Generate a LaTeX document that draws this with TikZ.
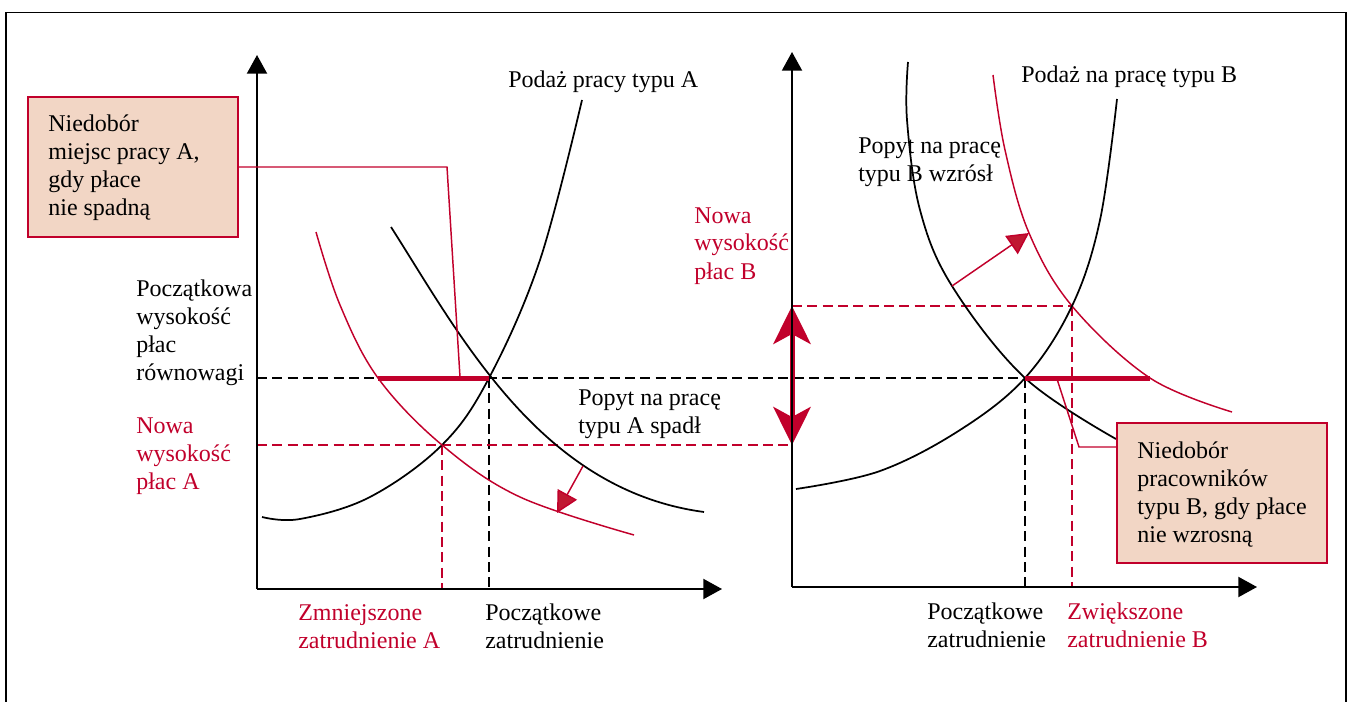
\documentclass[tikz,border=0pt]{standalone}
\usepackage{fontspec}
\setmainfont{Liberation Serif}
\usetikzlibrary{arrows.meta,calc}
\definecolor{crim}{RGB}{193,0,43}
\definecolor{peach}{RGB}{242,214,197}
\definecolor{headred}{RGB}{192,24,50}
\begin{document}
\begin{tikzpicture}[x=0.75pt, y=-0.75pt,
  lbl/.style={inner sep=0pt, anchor=base west, align=left, font=\fontsize{18}{21}\selectfont},
  redlbl/.style={lbl, text=crim},
  axis/.style={line width=1.5pt, -{Triangle[length=14pt,width=15pt]}},
  curveblk/.style={line width=1.3pt, black},
  curvered/.style={line width=1.1pt, crim},
  dashblk/.style={line width=1.8pt, dash pattern=on 7.5pt off 4pt},
  dashred/.style={dashblk, draw=crim},
  bar/.style={line width=3.75pt, crim},
  lead/.style={line width=1.1pt, crim},
  shiftarrow/.style={line width=1.1pt, crim, -{Triangle[length=16pt,width=16.5pt,fill=headred]}},
  bigtip/.tip={Stealth[length=28.5pt,width=28pt,inset=7.5pt]},
  note/.style={draw=crim, line width=1.4pt, fill=peach, minimum width=157.5pt,
    minimum height=105pt, inner sep=0pt},
]
\useasboundingbox (0,0) rectangle (1352,702);

% outer frame
\draw[line width=1.2pt] (6,702) -- (6,12.5) -- (1346,12.5) -- (1346,702);

% key points
\coordinate (oA) at (257,589);
\coordinate (yA) at (257,55);
\coordinate (xA) at (722,589);
\coordinate (oB) at (792,587);
\coordinate (yB) at (792,52);
\coordinate (xB) at (1257,587);
\coordinate (eA) at (489,378);
\coordinate (nA) at (442,445);
\coordinate (eB) at (1025,378);
\coordinate (nB) at (1072,306);
\coordinate (barA) at (378,378);
\coordinate (barB) at (1150,378);

% guide lines
\draw[dashblk] (oA |- eA) -- (eB);
\draw[dashblk] (eA) -- (eA |- oA);
\draw[dashblk] (eB) -- (eB |- oB);
\draw[dashred] (oA |- nA) -- (oB |- nA);
\draw[dashred] (nA) -- (nA |- oA);
\draw[dashred] (oB |- nB) -- (nB);
\draw[dashred] (nB) -- (nB |- oB);

% market A: supply, initial demand, lowered demand
\draw[curveblk] plot[smooth, tension=0.6] coordinates {(262,517) (300,519) (370,497) (442,445) (489,378) (540,260) (582,100)};
\draw[curveblk] (391,227) .. controls (460,335) and (540,490) .. (704,512);
\draw[curvered] plot[smooth, tension=0.6] coordinates {(316,232) (340,305) (378,378) (442,445) (520,497) (634,535)};

% market B: initial demand, raised demand, supply
\draw[curveblk] plot[smooth, tension=0.6] coordinates {(908,62) (907,120) (920,210) (952,286) (1025,378) (1116,439)};
\draw[curvered] plot[smooth, tension=0.6] coordinates {(993,75) (1005,150) (1029,233) (1072,306) (1150,378) (1232,412)};
\draw[curveblk] plot[smooth, tension=0.6] coordinates {(796,489) (880,471) (960,430) (1025,378) (1072,306) (1100,220) (1117,99)};

% shifts of demand
\coordinate (sA0) at (583,466);
\coordinate (sA1) at (557,513);
\coordinate (sB0) at (952,286);
\coordinate (sB1) at (1029,233);
\draw[shiftarrow] (sA0) -- (sA1);
\draw[shiftarrow] (sB0) -- (sB1);

% shortage bars
\draw[bar] (barA) -- (eA);
\draw[bar] (eB) -- (barB);

% wage change on axis B
\draw[bar, bigtip-bigtip] (oB |- nB) -- (oB |- nA);

% axes
\draw[axis] (oA) -- (yA);
\draw[axis] (oA) -- (xA);
\draw[axis] (oB) -- (yB);
\draw[axis] (oB) -- (xB);

% callout boxes
\node[note] (boxA) at (133,167) {};
\node[note] (boxB) at (1222,493) {};
\node[lbl] (textA) at ($(boxA.south west)+(21,-22)$) {Niedobór\\miejsc pracy A,\\gdy płace\\nie spadną};
\node[lbl] (textB) at ($(boxB.south west)+(21,-21)$) {Niedobór\\pracowników\\typu B, gdy płace\\nie wzrosną};
\coordinate (kA) at (447,167);
\coordinate (fA) at (460,377);
\coordinate (kB) at (1079,447);
\coordinate (fB) at (1057,379);
\draw[lead] (boxA.east) -- (kA) -- (fA);
\draw[lead] (boxB.west |- kB) -- (kB) -- (fB);

% axis and curve labels
\node[lbl] (supA) at (508,88) {Podaż pracy typu A};
\node[lbl] (wageA) at (136,380) {Początkowa\\wysokość\\płac\\równowagi};
\node[redlbl] (newA) at (136,489) {Nowa\\wysokość\\płac A};
\node[redlbl] (empLessA) at (298,648) {Zmniejszone\\zatrudnienie A};
\node[lbl] (empA) at (485,648) {Początkowe\\zatrudnienie};
\node[lbl] (demA) at (578,433) {Popyt na pracę\\typu A spadł};
\node[redlbl] (newB) at (694,279) {Nowa\\wysokość\\płac B};
\node[lbl] (demB) at (858,182) {Popyt na pracę\\typu B wzrósł};
\node[lbl] (supB) at (1021,83) {Podaż na pracę typu B};
\node[lbl] (empB) at (927,647) {Początkowe\\zatrudnienie};
\node[redlbl] (empMoreB) at (1067,647) {Zwiększone\\zatrudnienie B};
\end{tikzpicture}
\end{document}
